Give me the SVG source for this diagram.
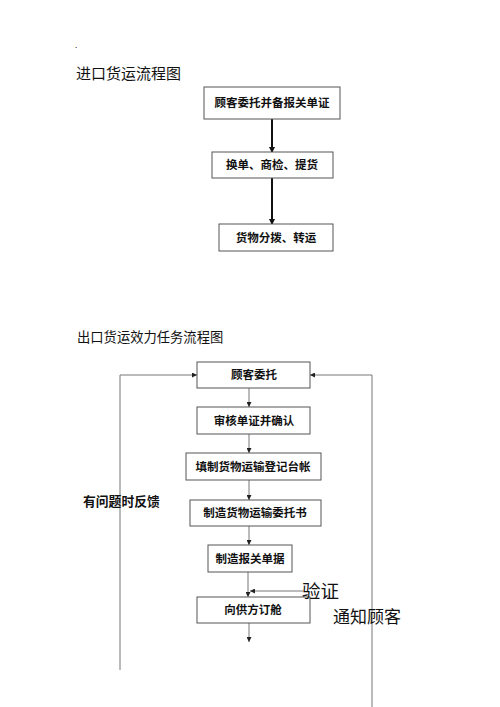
<svg xmlns="http://www.w3.org/2000/svg" width="500" height="707" viewBox="0 0 500 707">
<style>
.box{fill:#fff;stroke:#555;stroke-width:1}
.bt{font-family:"Noto Sans CJK SC",sans-serif;font-size:11.5px;fill:#111;text-anchor:middle;font-weight:700}
.title{font-family:"Noto Sans CJK SC",sans-serif;fill:#111}
.thick{stroke:#111;stroke-width:2;fill:none}
.thin{stroke:#777;stroke-width:1;fill:none}
.lbl{font-family:"Noto Sans CJK SC",sans-serif;fill:#111}
</style>
<defs>
<marker id="ah" markerWidth="6" markerHeight="6" refX="5" refY="3" orient="auto" markerUnits="userSpaceOnUse">
<path d="M0,0 L6,3 L0,6 Z" fill="#111"/>
</marker>
<marker id="as" markerWidth="5" markerHeight="5" refX="5" refY="2.5" orient="auto" markerUnits="userSpaceOnUse">
<path d="M0,0 L5,2.5 L0,5 Z" fill="#222"/>
</marker>
</defs>
<rect width="500" height="707" fill="#fff"/>
<text x="75" y="48" class="title" font-size="8">.</text>
<text x="76" y="79" class="title" font-size="15">进口货运流程图</text>
<text x="77" y="342" class="title" font-size="13.3">出口货运效力任务流程图</text>

<g id="connectors">
<line x1="272" y1="119" x2="272" y2="152" class="thick" marker-end="url(#ah)"/>
<line x1="272" y1="178" x2="272" y2="224" class="thick" marker-end="url(#ah)"/>
<polyline points="120,670 120,375 197,375" class="thin" marker-end="url(#as)"/>
<polyline points="372,707 372,375 310,375" class="thin" marker-end="url(#as)"/>
<line x1="249" y1="388" x2="249" y2="407" class="thin" marker-end="url(#as)"/>
<line x1="249" y1="434" x2="249" y2="453" class="thin" marker-end="url(#as)"/>
<line x1="249" y1="480" x2="249" y2="500" class="thin" marker-end="url(#as)"/>
<line x1="249" y1="526" x2="249" y2="545" class="thin" marker-end="url(#as)"/>
<line x1="248" y1="572" x2="248" y2="597" class="thin" marker-end="url(#as)"/>
<line x1="303" y1="591" x2="250" y2="591" class="thin" marker-end="url(#as)"/>
<line x1="249" y1="623" x2="249" y2="642" class="thin" marker-end="url(#as)"/>
</g>

<g id="n1"><rect x="204" y="87" width="136" height="32" class="box"/><text x="272" y="107" class="bt">顾客委托并备报关单证</text></g>
<g id="n2"><rect x="212" y="152" width="121" height="26" class="box"/><text x="272" y="169" class="bt">换单、商检、提货</text></g>
<g id="n3"><rect x="219" y="224" width="114" height="27" class="box"/><text x="276" y="242" class="bt">货物分拨、转运</text></g>

<g id="m1"><rect x="197" y="362" width="113" height="26" class="box"/><text x="254" y="379" class="bt">顾客委托</text></g>
<g id="m2"><rect x="197" y="407" width="113" height="27" class="box"/><text x="254" y="425" class="bt">审核单证并确认</text></g>
<g id="m3"><rect x="186" y="453" width="135" height="27" class="box"/><text x="253" y="471" class="bt">填制货物运输登记台帐</text></g>
<g id="m4"><rect x="190" y="500" width="131" height="26" class="box"/><text x="255" y="517" class="bt">制造货物运输委托书</text></g>
<g id="m5"><rect x="208" y="545" width="84" height="27" class="box"/><text x="250" y="563" class="bt">制造报关单据</text></g>
<g id="m6"><rect x="197" y="597" width="113" height="26" class="box"/><text x="253" y="614" class="bt">向供方订舱</text></g>

<text x="83" y="506" class="lbl" font-size="12.8" font-weight="bold">有问题时反馈</text>
<text x="302" y="598" class="lbl" font-size="18.5">验证</text>
<text x="333" y="623" class="lbl" font-size="17">通知顾客</text>
</svg>
